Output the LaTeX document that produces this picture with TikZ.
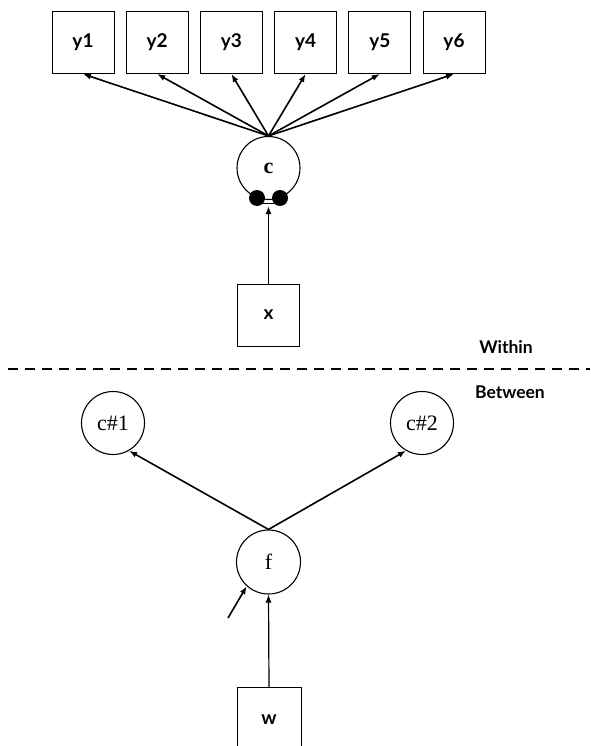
\documentclass[tikz,border=0pt]{standalone}
\usepackage{fontspec}
\setmainfont{Liberation Serif}
\setsansfont{Lato}
\usetikzlibrary{arrows.meta}
\begin{document}
\begin{tikzpicture}[x=1pt,y=-1pt,
  obs/.style={draw, line width=1pt, minimum width=62pt, minimum height=62pt, inner sep=0pt, font=\sffamily\bfseries\fontsize{19}{21}\selectfont},
  lat/.style={circle, draw, line width=1.1pt, minimum size=63pt, inner sep=0pt, font=\fontsize{22}{24}\selectfont},
  dotnode/.style={circle, fill=black, minimum size=16pt, inner sep=0pt},
  arr/.style={-{Latex[length=8pt,width=6pt]}, line width=1.6pt},
  lbl/.style={font=\sffamily\bfseries\fontsize{17.5}{19}\selectfont}]
\useasboundingbox (0,0) rectangle (590,746);
\clip (0,0) rectangle (590,746);
% within
\foreach \i in {1,...,6} {
  \node[obs] (y\i) at ({83+74.2*(\i-1)},42.5) {y\i};
}
\node[lat, font=\bfseries\fontsize{22}{24}\selectfont] (c) at (268.5,168) {c};
\node[dotnode] (d1) at (257,198) {};
\node[dotnode] (d2) at (280,198) {};
\draw[line width=1pt] (d1.-45) -- (d2.-135);
\coordinate (cm) at (268.5,206);
\node[obs] (x) at (268.5,315) {x};
\foreach \i in {1,...,6} { \draw[arr] (c.north) -- (y\i.south); }
\draw[arr] (x.north) -- (cm);
% separator
\coordinate (l1) at (8,369);
\coordinate (l2) at (590,369);
\draw[line width=1.4pt, dash pattern=on 10pt off 7pt] (l1) -- (l2);
\node[lbl] (within) at (506,347) {Within};
\node[lbl] (between) at (510,392) {Between};
% between
\node[lat] (c1) at (113,423) {c\#1};
\node[lat] (c2) at (422,423) {c\#2};
\node[lat, minimum size=64pt] (f) at (268.5,562) {f};
\node[obs, minimum width=64pt, minimum height=64pt] (w) at (269,719.5) {w};
\coordinate (e) at (228,618);
\draw[arr] (f.north) -- (c1.-60);
\draw[arr] (f.north) -- (c2.-120);
\draw[arr, line width=1.2pt] (w.north) -- (f.south);
\draw[arr] (e) -- (f.228);
\end{tikzpicture}
\end{document}
